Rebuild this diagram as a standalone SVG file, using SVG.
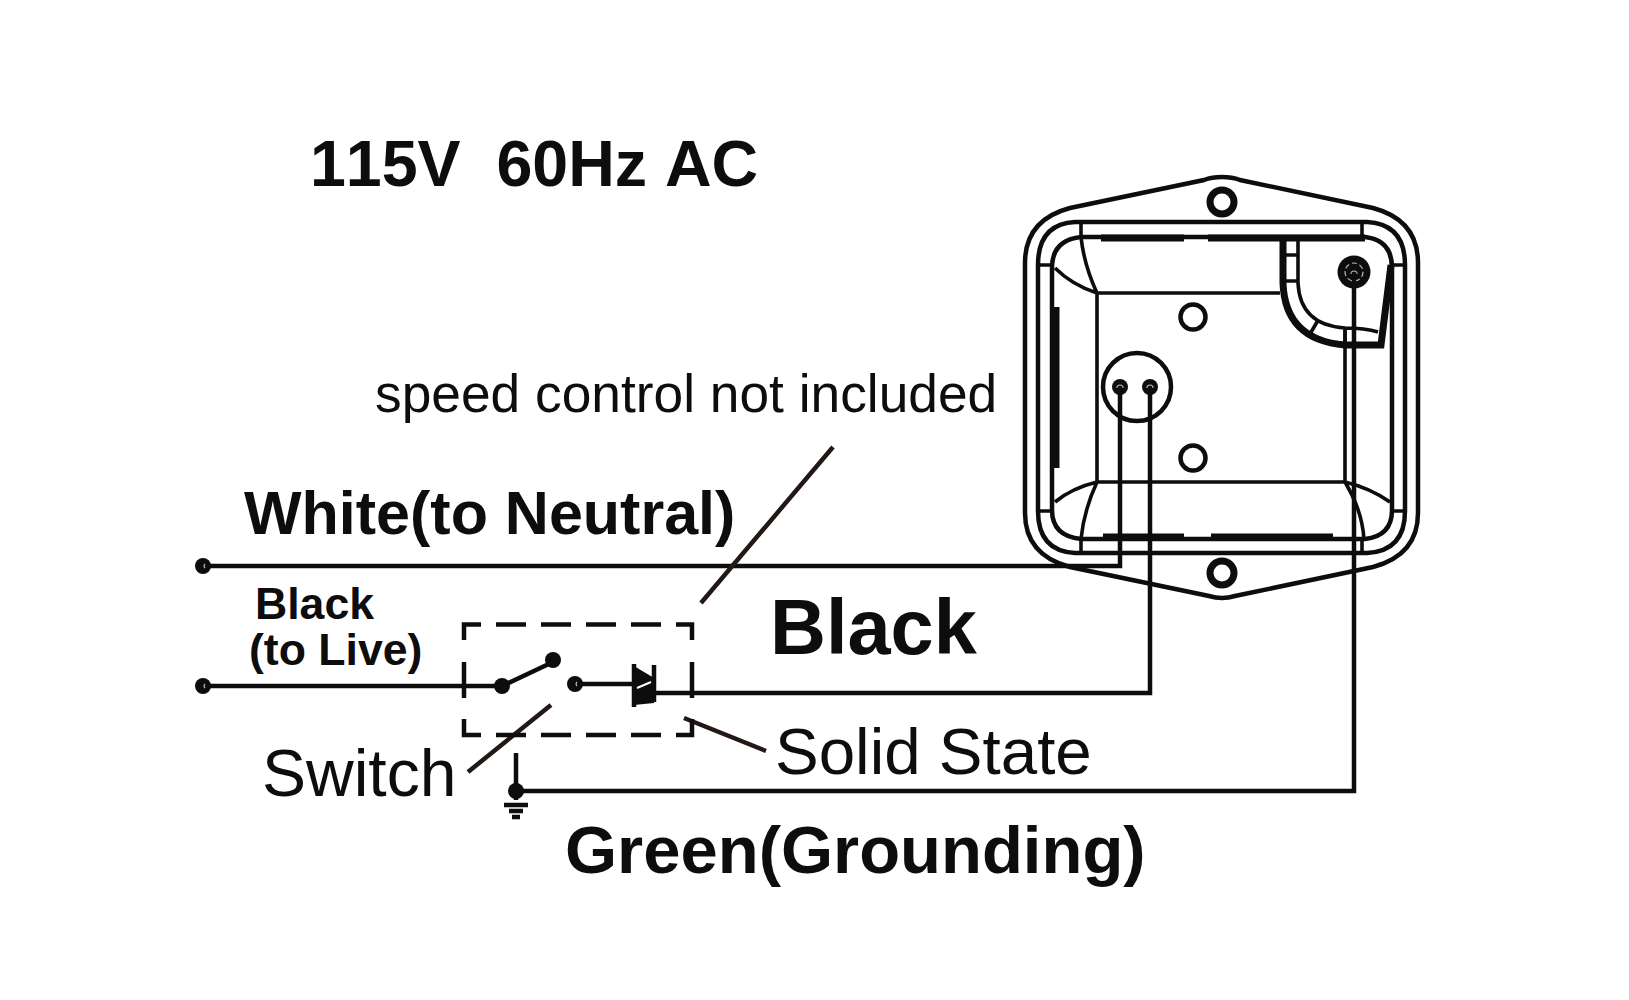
<svg xmlns="http://www.w3.org/2000/svg" width="1629" height="1000" viewBox="0 0 1629 1000">
<style>
.l{fill:none;stroke:#0d0d0d;stroke-width:3.6;stroke-linejoin:round}
.t{fill:none;stroke:#0d0d0d;stroke-width:7}
.w{fill:none;stroke:#0d0d0d;stroke-width:4.5}
.k{fill:none;stroke:#231815;stroke-width:4.5}
.s{fill:none;stroke:#bbb;stroke-width:1.2}
.b{font-family:"Liberation Sans",Arial,sans-serif;font-weight:bold;fill:#0d0d0d}
.r{font-family:"Liberation Sans",Arial,sans-serif;fill:#0d0d0d}
.d{fill:#0d0d0d}
</style>
<rect width="1629" height="1000" fill="#fff"/>
<g id="housing">
<path class="w" d="M1222 177Q1232 177 1240 180L1373 208Q1418 220 1418 263V513Q1418 555 1373 567L1235 596Q1222 600 1209 596L1070 567Q1025 555 1025 513V263Q1025 220 1070 208L1204 180Q1212 177 1222 177Z"/>
<path class="w" d="M1075 222H1367Q1405 224 1405 265V511Q1405 551 1367 553H1075Q1038 551 1038 511V265Q1038 224 1075 222Z"/>
<path class="w" d="M1081 237H1365Q1392 240 1392 268V510Q1392 536 1365 539H1081Q1052 536 1052 510V268Q1052 240 1081 237Z"/>
<path class="l" d="M1038 265H1052M1392 265H1405M1038 511H1052M1392 511H1405M1081 222V237M1362 222V237M1081 539V553M1362 539V553"/>
<path class="l" d="M1081 237Q1084 265 1097 293M1055 268Q1072 285 1097 293M1097 293H1280M1097 293V482M1097 482H1345M1097 482Q1072 488 1055 502M1097 482Q1084 510 1081 539M1345 482Q1370 488 1390 502M1345 482Q1362 510 1364 539M1345 330V482"/>
<path class="t" d="M1056 307V468" stroke-width="8"/>
<path class="t" d="M1101 238H1184M1208 238H1365M1103 537H1184M1211 537H1333"/>
<path class="t" d="M1283 238V283Q1285 340 1345 345H1381L1391 265" stroke-width="6"/>
<path class="l" d="M1298 240V283Q1300 325 1345 328Q1365 328 1378 332M1283 255H1298M1283 281H1298M1317 322L1310 334M1345 328V345"/>
<circle class="t" cx="1222" cy="202" r="12"/>
<circle class="t" cx="1222" cy="573" r="12"/>
<circle class="w" cx="1193" cy="317" r="12.5"/>
<circle class="w" cx="1193" cy="458" r="12.5"/>
<circle class="w" cx="1137" cy="387" r="34"/>
<circle class="d" cx="1120" cy="387" r="8"/>
<circle class="d" cx="1150" cy="387" r="8"/>
<circle class="d" cx="1354" cy="272" r="16.5"/>
<circle class="s" cx="1354" cy="272" r="9" stroke-dasharray="5 3"/>
<path class="s" d="M1351 274A3 3 0 0 1 1357 274M1117 388A3 3 0 0 1 1123 388M1147 388A3 3 0 0 1 1153 388"/>
</g>
<g id="connectors">
<path class="w" d="M203 566H1120V387"/>
<path class="w" d="M203 686H502"/>
<path class="w" d="M502 686L553 662"/>
<path class="w" d="M575 684H634"/>
<path class="w" d="M654 693H1150V387"/>
<path class="w" d="M516 791H1354V272"/>
<path class="w" d="M516 753V800"/>
<path class="k" d="M833 447L701 603M551 705L468 772M684 718L766 751"/>
</g>
<g id="terminals">
<circle class="d" cx="203" cy="566" r="8"/>
<circle class="d" cx="203" cy="686" r="8"/>
<circle class="d" cx="502" cy="686" r="8"/>
<circle class="d" cx="553" cy="660" r="8"/>
<circle class="d" cx="575" cy="684" r="8"/>
<path class="s" d="M205 564A3 3 0 0 0 205 568M205 684A3 3 0 0 0 205 688M577 682A3 3 0 0 0 577 686"/>
</g>
<g id="speed-control">
<path class="w" d="M464 640V624.500H481M496 624.500H526M541 624.500H571M586 624.500H616M631 624.500H661M676 624.500H692V640M464 662V698M692 662V698M464 719V735H481M496 735H526M541 735H571M586 735H616M631 735H661M676 735H692V719"/>
<path class="d" d="M634 666L654 678V703L634 705Z"/>
<path class="w" d="M634 664V707M654 665V702"/>
<path d="M637 688L651 682" fill="none" stroke="#fff" stroke-width="2"/>
</g>
<g id="ground">
<circle class="d" cx="516" cy="791" r="8"/>
<path class="w" d="M504 805H528M509 811H523M512 817H520"/>
</g>
<g id="labels">
<text class="b" x="310" y="186" font-size="64.500" xml:space="preserve" style="font-kerning:none">115V  60Hz AC</text>
<text class="r" x="375" y="412" font-size="53.300">speed control not included</text>
<text class="b" x="244" y="534" font-size="61">White(to Neutral)</text>
<text class="b" x="255" y="619" font-size="44.600">Black</text>
<text class="b" x="249" y="665" font-size="44.600">(to Live)</text>
<text class="b" x="770" y="654" font-size="77.500">Black</text>
<text class="r" x="262" y="796" font-size="66">Switch</text>
<text class="r" x="775" y="774" font-size="65.500">Solid State</text>
<text class="b" x="565" y="873" font-size="67">Green(Grounding)</text>
</g>
</svg>
